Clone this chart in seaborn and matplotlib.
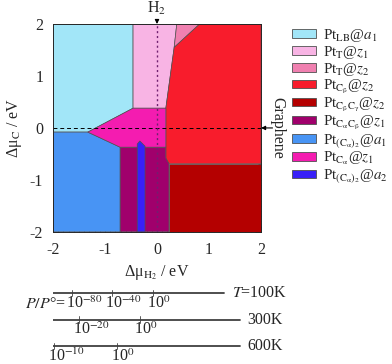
import numpy as np
import pandas as pd
import matplotlib
matplotlib.use("Agg")
import matplotlib.pyplot as plt
import seaborn as sns
from matplotlib.patches import Patch
from matplotlib.ticker import MultipleLocator

# phase regions (vertices in eV)
lb_x = [-2, -0.46, -0.46, -1.33, -2]
lb_y = [2, 2, 0.38, -0.08, -0.08]
tz1_x = [-0.46, 0.38, 0.33, 0.17, -0.46]
tz1_y = [2, 2, 1.55, 0.38, 0.38]
tz2_x = [0.38, 0.82, 0.33]
tz2_y = [2, 2, 1.55]
cb_x = [0.82, 2, 2, 0.23, 0.17, 0.17, 0.33]
cb_y = [2, 2, -0.69, -0.69, -0.58, 0.38, 1.55]
cbcg_x = [0.23, 2, 2, 0.23]
cbcg_y = [-0.69, -0.69, -2, -2]
cacb_x = [-0.71, 0.17, 0.17, 0.23, 0.23, -0.71]
cacb_y = [-0.37, -0.37, -0.58, -0.69, -2, -2]
ca2a1_x = [-2, -1.33, -0.71, -0.71, -2]
ca2a1_y = [-0.08, -0.08, -0.37, -2, -2]
ca_x = [-0.46, 0.17, 0.17, -0.71, -1.33]
ca_y = [0.38, 0.38, -0.37, -0.37, -0.08]
ca2a2_x = [-0.38, -0.38, -0.33, -0.23, -0.23]
ca2a2_y = [-2, -0.31, -0.25, -0.35, -2]

labels = [r"Pt$_{\mathrm{LB}}$@$a_1$", r"Pt$_{\mathrm{T}}$@$z_1$", r"Pt$_{\mathrm{T}}$@$z_2$",
          r"Pt$_{\mathrm{C_\beta}}$@$z_2$", r"Pt$_{\mathrm{C_\beta C_\gamma}}$@$z_2$",
          r"Pt$_{\mathrm{C_\alpha C_\beta}}$@$z_1$", r"Pt$_{(\mathrm{C_\alpha})_2}$@$a_1$",
          r"Pt$_{\mathrm{C_\alpha}}$@$z_1$", r"Pt$_{(\mathrm{C_\alpha})_2}$@$a_2$"]
colors = ["#a2e6f8", "#f8b4e4", "#f080b0", "#f81c2c", "#b40000",
          "#a0006c", "#4894f4", "#f41cb0", "#3820f8"]

# pressure scales: line end, tick positions (eV) and exponents
temps = ["$T$=100K", "300K", "600K"]
scale_end = [1.29, 1.6, 1.6]
scale_ticks = [[-1.63, -0.87, -0.08], [-1.5, -0.33], [-1.98, -0.77]]
scale_exps = [["-80", "-40", "0"], ["-20", "0"], ["-10", "0"]]

FS = 11.5
sns.set_style("ticks")
plt.rcParams["font.family"] = ["Liberation Serif", "DejaVu Serif"]
plt.rcParams["mathtext.fontset"] = "stix"
plt.rcParams["font.size"] = FS
plt.rcParams["axes.unicode_minus"] = False

fig = plt.figure(figsize=(3.92, 3.64), dpi=100)
ax = fig.add_axes([0.135, 0.363, 0.531, 0.571])

polys = [(lb_x, lb_y), (tz1_x, tz1_y), (tz2_x, tz2_y), (cb_x, cb_y), (cbcg_x, cbcg_y),
         (cacb_x, cacb_y), (ca2a1_x, ca2a1_y), (ca_x, ca_y), (ca2a2_x, ca2a2_y)]
for (px, py), c in zip(polys, colors):
    ax.fill(px, py, facecolor=c, edgecolor="#505050", linewidth=0.5)

ax.axhline(0, color="black", ls=(0, (4, 3)), lw=0.7)
ax.axvline(0, color="#702070", ls=(0, (1.5, 2)), lw=1.0)

ax.set_xlim(-2, 2)
ax.set_ylim(-2, 2)
ax.xaxis.set_major_locator(MultipleLocator(1))
ax.yaxis.set_major_locator(MultipleLocator(1))
ax.xaxis.set_minor_locator(MultipleLocator(0.1))
ax.yaxis.set_minor_locator(MultipleLocator(0.1))
ax.tick_params(which="both", direction="in", top=True, right=True, labelsize=FS)
ax.tick_params(which="major", length=4, width=0.6)
ax.tick_params(which="minor", length=2, width=0.5)
ax.tick_params(axis="x", pad=7)
ax.tick_params(axis="y", pad=7)
for s in ax.spines.values():
    s.set_linewidth(0.7)
ax.set_xlabel("Δμ$_{\\mathrm{H_2}}$ / eV", fontsize=FS, labelpad=4)
ax.set_ylabel("Δμ$_{\\mathrm{C}}$ / eV", fontsize=FS, labelpad=4)

ax.annotate("H$_2$", xy=(0, 2), xytext=(0, 2.14), ha="center", va="bottom",
            fontsize=FS, annotation_clip=False,
            arrowprops=dict(arrowstyle="-|>", color="black", lw=0.8, mutation_scale=6,
                            shrinkA=0, shrinkB=0))
ax.annotate("", xy=(2, 0), xytext=(2.22, 0), annotation_clip=False,
            arrowprops=dict(arrowstyle="-|>", color="black", lw=0.8, mutation_scale=6,
                            shrinkA=0, shrinkB=0))
ax.text(2.31, 0, "Graphene", rotation=270, ha="center", va="center", fontsize=FS,
        clip_on=False)

handles = [Patch(facecolor=c, edgecolor="#505050", linewidth=0.6) for c in colors]
fig.legend(handles, labels, loc="upper left", bbox_to_anchor=(0.745, 0.927),
           frameon=False, fontsize=10.8, handlelength=1.6, handleheight=0.5,
           handletextpad=0.45, labelspacing=0.0, borderaxespad=0, borderpad=0)

# pressure scales below
sc = fig.add_axes([0.135, 0.0055, 0.531, 0.2335])
sc.set_xlim(-2, 2)
sc.set_ylim(2.6, -0.6)
sc.axis("off")
for i in range(3):
    d = pd.DataFrame({"x": [-2, scale_end[i]], "y": [i, i]})
    sns.lineplot(data=d, x="x", y="y", ax=sc, color="#404040", lw=1.3, legend=False)
    for t, e in zip(scale_ticks[i], scale_exps[i]):
        sc.plot([t, t], [i - 0.12, i + 0.12], color="#404040", lw=0.6)
        sc.text(t - 0.12, i + 0.55, "10$^{%s}$" % e, ha="left", va="baseline", fontsize=FS)
    sc.text(scale_end[i] + (0.15 if i == 0 else 0.13), i, temps[i], ha="left",
            va="center", fontsize=FS, clip_on=False)
sc.text(scale_ticks[0][0] - 0.12, 0.55, "$P/P$°=", ha="right", va="baseline", fontsize=FS)
sc.set_xlabel("")
sc.set_ylabel("")

fig.savefig("out.png", dpi=100)
